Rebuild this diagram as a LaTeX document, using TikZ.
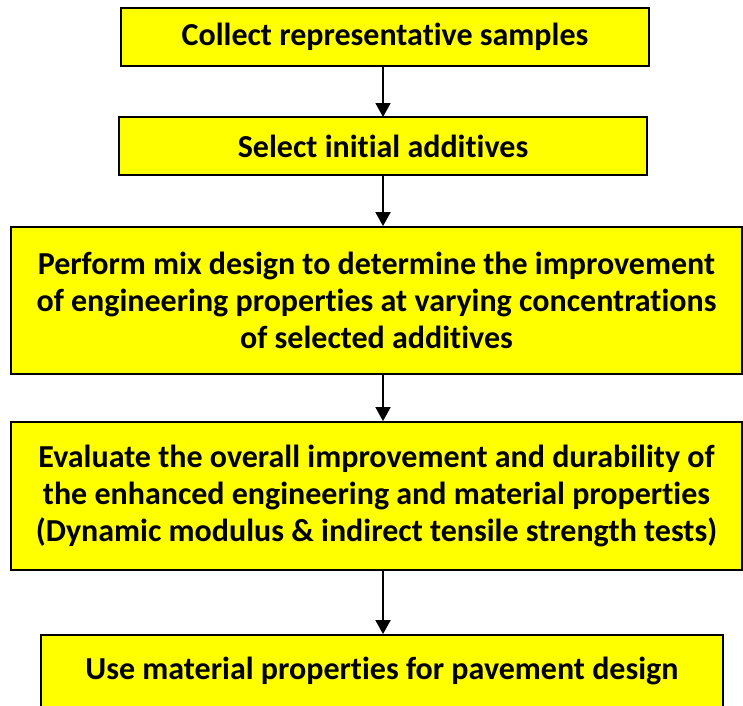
\documentclass[tikz,border=0pt]{standalone}
\usepackage{fontspec}
\setmainfont[RawFeature={-liga;-dlig;-calt;-clig}]{Carlito}
\usetikzlibrary{arrows.meta}
\definecolor{boxyellow}{RGB}{255,255,0}
\begin{document}
\begin{tikzpicture}[x=1pt,y=-1pt,
  stepbox/.style={draw=black, line width=1.8pt, fill=boxyellow, inner sep=0pt, align=center,
    font=\fontsize{32}{37}\selectfont\bfseries},
  flow/.style={-{Triangle[length=14pt,width=15pt]}, line width=1.8pt}]
\useasboundingbox (0,0) rectangle (743,705);
\node[stepbox, minimum width=528pt, minimum height=58pt] (b1) at (385,37) {Collect representative samples};
\node[stepbox, minimum width=528pt, minimum height=58pt] (b2) at (383,146) {Select initial additives};
\node[stepbox, minimum width=731pt, minimum height=147pt] (b3) at (376.5,300.5) {Perform mix design to determine the improvement\\of engineering properties at varying concentrations\\of selected additives};
\node[stepbox, minimum width=731pt, minimum height=148pt] (b4) at (376.5,496) {Evaluate the overall improvement and durability of\\the enhanced engineering and material properties\\(Dynamic modulus \& indirect tensile strength tests)};
\node[stepbox, minimum width=682pt, minimum height=72pt] (b5) at (382,671) {Use material properties for pavement design};
\draw[flow] (383,66) -- (383,117);
\draw[flow] (b2.south -| 383,0) -- (b3.north -| 383,0);
\draw[flow] (b3.south -| 383,0) -- (b4.north -| 383,0);
\draw[flow] (b4.south -| 383,0) -- (b5.north -| 383,0);
\end{tikzpicture}
\end{document}
